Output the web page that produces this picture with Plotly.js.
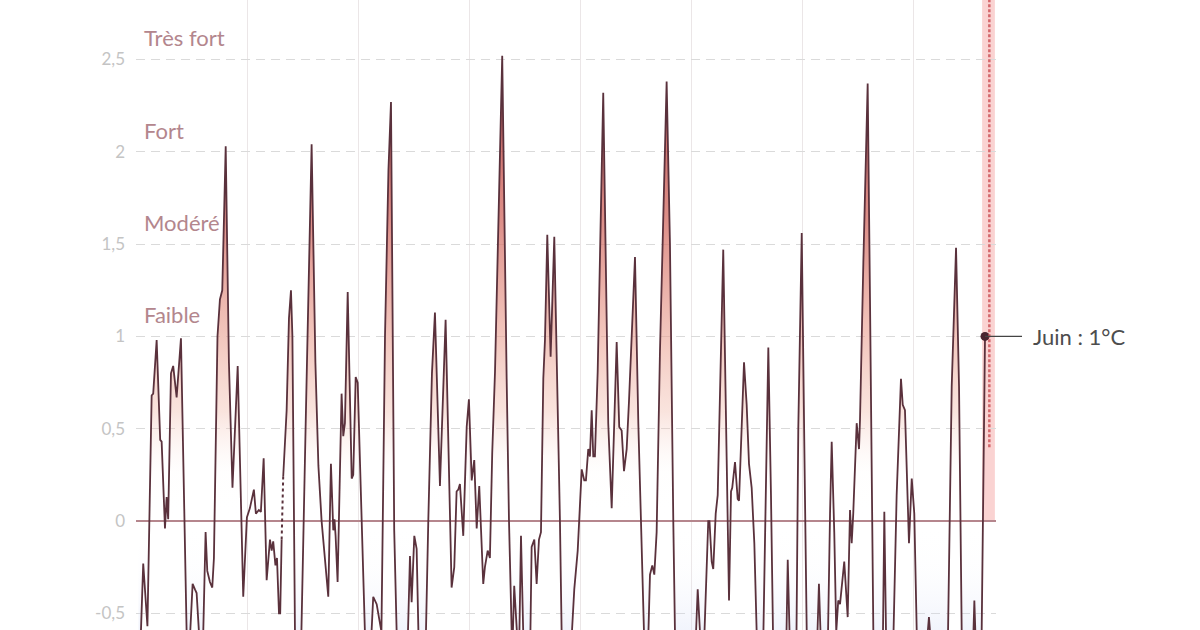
<!DOCTYPE html>
<html>
<head>
<meta charset="utf-8">
<script src="https://cdn.plot.ly/plotly-3.0.1.min.js"></script>
<style>
  html, body { margin: 0; padding: 0; background: #ffffff; }
  #chart { width: 1200px; height: 630px; }
</style>
</head>
<body>
<div id="chart"></div>
<script>
// Anomalie de température (°C) — sommets et creux
const annees = [
  1950.20, 1950.63, 1951.01, 1951.39, 1951.53, 1951.84, 1952.16, 1952.29, 1952.59, 1952.74,
  1952.88, 1953.13, 1953.33, 1953.64, 1954.03, 1954.39, 1954.54, 1954.70, 1954.86, 1955.08,
  1955.29, 1955.44, 1955.65, 1955.83, 1956.04, 1956.25, 1956.40, 1956.64, 1956.85, 1957.00,
  1957.32, 1957.54, 1957.75, 1958.06, 1958.35, 1958.67, 1959.14, 1959.64, 1959.97, 1960.24,
  1960.60, 1960.78, 1961.05, 1961.23, 1961.48, 1961.75, 1962.05, 1962.20, 1962.34, 1962.54,
  1962.68, 1962.86, 1962.97, 1963.10, 1963.17, 1963.24, 1963.55, 1963.76, 1963.94, 1964.07,
  1964.30, 1964.52, 1964.88, 1965.29, 1965.80, 1966.14, 1966.41, 1966.70, 1966.94, 1967.30,
  1967.54, 1967.75, 1967.86, 1967.96, 1968.14, 1968.50, 1968.65, 1968.80, 1969.05, 1969.41,
  1969.55, 1969.77, 1969.95, 1970.15, 1970.36, 1970.60, 1970.96, 1971.23, 1971.35, 1971.66,
  1971.86, 1972.09, 1972.41, 1972.72, 1972.95, 1973.24, 1973.46, 1973.94, 1974.48, 1974.66,
  1974.81, 1975.05, 1975.26, 1975.42, 1975.74, 1976.10, 1976.31, 1976.64, 1976.91, 1977.36,
  1977.87, 1978.11, 1978.41, 1978.65, 1978.86, 1979.01, 1979.16, 1979.46, 1979.77, 1979.97,
  1980.22, 1980.45, 1980.67, 1980.90, 1981.05, 1981.26, 1981.41, 1981.66, 1981.86, 1982.07,
  1982.32, 1982.47, 1982.97, 1983.37, 1983.58, 1983.82, 1983.91, 1984.05, 1984.27, 1984.39,
  1984.52, 1984.66, 1984.86, 1985.20, 1985.51, 1985.62, 1985.86, 1986.07, 1986.28, 1986.46,
  1986.67, 1986.82, 1987.03, 1987.33, 1987.66, 1988.02, 1988.17, 1988.32, 1988.71, 1989.25,
  1989.46, 1989.77, 1989.97, 1990.13, 1990.36, 1990.51, 1990.72, 1990.87, 1991.03, 1991.17,
  1991.32, 1991.57, 1992.07, 1992.52, 1992.83, 1993.06, 1993.28, 1993.51, 1993.73, 1993.94,
  1994.18, 1994.39, 1994.93, 1995.23, 1995.44, 1995.68, 1995.92, 1996.14, 1996.28, 1996.49,
  1996.67, 1996.88, 1997.18, 1997.78, 1998.08, 1998.38, 1998.53, 1999.25, 2000.24, 2000.58,
  2000.78, 2000.96, 2001.19, 2001.53, 2001.64, 2001.84, 2001.98, 2002.20, 2002.38, 2002.88,
  2003.19, 2003.40, 2003.58, 2003.69, 2003.94, 2004.18, 2004.30, 2004.54, 2004.75, 2004.99,
  2005.20, 2005.44, 2005.59, 2005.68, 2005.89, 2006.19, 2006.50, 2006.68, 2006.94, 2007.18,
  2007.36, 2007.99, 2008.58, 2008.69, 2008.85, 2009.16, 2009.48, 2009.64, 2009.95, 2010.24,
  2010.40, 2010.87, 2011.37, 2011.50, 2011.64, 2011.96, 2012.32, 2012.50, 2012.65, 2012.88,
  2013.06, 2013.24, 2013.40, 2013.78, 2014.09, 2014.30, 2014.45, 2014.59, 2014.90, 2015.11,
  2015.20, 2015.50, 2015.89, 2016.10, 2016.40, 2016.82, 2017.27, 2017.39, 2017.54, 2017.86,
  2018.22, 2018.50, 2018.89, 2019.05, 2019.25, 2019.61, 2019.86, 2020.09, 2020.31, 2020.78,
  2021.32, 2021.41, 2021.51, 2022.23, 2023.13, 2023.46, 2023.85, 2024.12, 2024.36, 2024.84,
  2025.42, 2025.50, 2025.59, 2025.87, 2026.16, 2026.46
];
const anomalies = [
  -1.00, -0.23, -0.57,  0.68,  0.69,  0.98,  0.44,  0.43, -0.04,  0.13,
   0.01,  0.80,  0.84,  0.67,  0.99, -0.28, -0.60, -0.80, -0.60, -0.34,
  -0.37, -0.39, -0.60, -0.75, -0.60, -0.06, -0.27, -0.33, -0.36, -0.20,
   1.00,  1.20,  1.25,  2.03,  0.86,  0.18,  0.84, -0.41,  0.02,  0.07,
   0.17,  0.04,  0.06,  0.05,  0.34, -0.32, -0.10, -0.16, -0.11, -0.24,
  -0.20, -0.50, -0.50, -0.10,  null,  0.24,  0.60,  1.10,  1.25,  1.00,
  -0.60, -1.00, -0.60,  0.60,  2.04,  0.86,  0.30,  0.00, -0.17, -0.41,
   0.31, -0.05,  0.01, -0.08, -0.33,  0.69,  0.46,  0.53,  1.24,  0.23,
   0.25,  0.78,  0.75,  0.32, -0.05, -0.60, -0.90, -0.60, -0.41, -0.45,
  -0.51, -0.60,  1.00,  1.90,  2.27, -0.05, -0.60, -1.10, -0.60, -0.19,
  -0.44, -0.08, -0.15, -0.60, -1.00, -0.60,  0.00,  0.80,  1.13,  0.19,
   1.09,  0.40, -0.36, -0.25,  0.16,  0.17,  0.20, -0.08,  0.51,  0.66,
   0.22,  0.33, -0.04,  0.19, -0.04, -0.34, -0.25, -0.16, -0.20,  0.37,
   0.81,  1.18,  2.52,  0.77,  0.00, -0.60, -0.65, -0.35, -0.57, -0.70,
  -0.60, -0.08, -0.60, -1.00, -0.60, -0.14, -0.10, -0.34, -0.10, -0.06,
   0.77,  0.98,  1.55,  0.89,  1.54,  0.53,  0.00, -0.60, -1.20, -0.60,
  -0.37, -0.16,  0.14,  0.28,  0.22,  0.22,  0.39,  0.35,  0.60,  0.35,
   0.35,  0.81,  2.32,  0.53,  0.07,  0.53,  0.97,  0.51,  0.49,  0.27,
   0.39,  0.65,  1.43,  0.53,  0.00, -0.60, -1.00, -0.60, -0.29, -0.24,
  -0.29, -0.06,  0.92,  2.38,  1.50,  0.00, -0.60, -1.50, -0.90, -0.37,
  -0.60, -0.80, -0.60,  0.00,  0.00, -0.22, -0.26,  0.04,  0.14,  1.47,
   0.33, -0.43,  0.16,  0.18,  0.32,  0.12,  0.11,  0.50,  0.86,  0.63,
   0.31,  0.18, -0.04, -0.12, -0.60, -1.00, -0.60,  0.14,  0.94,  0.14,
  -0.60, -1.20, -0.60, -0.21, -0.60, -0.90, -0.60,  0.50,  1.56,  0.14,
  -0.60, -1.20, -0.60, -0.34, -0.60, -0.80, -0.60,  0.04,  0.43, -0.06,
  -0.60, -0.43, -0.45, -0.22, -0.52,  0.06, -0.12,  0.04,  0.53,  0.39,
   0.55,  1.40,  2.37,  1.20, -0.60, -1.30, -0.60,  0.05, -0.60, -0.90,
  -0.60,  0.14,  0.77,  0.63,  0.60, -0.12,  0.23,  0.04, -0.60, -1.00,
  -0.60, -0.52, -0.60, -1.20, -0.60,  0.73,  1.48,  0.73, -0.60, -1.50,
  -0.60, -0.43, -0.60, -0.80, -0.60,  1.00
];
// Données manquantes reliées en pointillé
const lacuneX = [1963.10, 1963.24];
const lacuneY = [-0.10, 0.24];

// Axe vertical
const graduations = [-0.5, 0, 0.5, 1, 1.5, 2, 2.5];
const libellesGraduations = ['-0,5', '0', '0,5', '1', '1,5', '2', '2,5'];

// Seuils d'intensité
const niveaux = ['Faible', 'Modéré', 'Fort', 'Très fort'];
const seuils = [1, 1.5, 2, 2.5];

// Dernier mois et zone de prévision
const dernierMois = 'Juin';
const zonePrevision = [2026.20, 2027.35];
const prevision = { annee: 2026.85, bas: 0.40 };

const yMin = -0.59, yMax = 2.822;
const xMin = 1949.98, xMax = 2027.45;

const n = annees.length;
const lastX = annees[n - 1], lastY = anomalies[n - 1];
const fmt = v => String(v).replace('.', ',');

const lineColor = '#5a313c';

const traces = [
  {
    x: annees, y: anomalies, type: 'scatter', mode: 'lines',
    fill: 'tozeroy',
    fillgradient: {
      type: 'vertical', start: -1.5, stop: 2.6,
      colorscale: [
        [0.00, 'rgba(175,190,235,0.45)'],
        [0.22, 'rgba(205,214,244,0.28)'],
        [0.30, 'rgba(232,236,250,0.08)'],
        [0.366, 'rgba(255,255,255,0)'],
        [0.43, 'rgba(250,228,222,0.03)'],
        [0.51, 'rgba(242,190,175,0.42)'],
        [0.61, 'rgba(234,160,145,0.60)'],
        [0.76, 'rgba(212,112,104,0.78)'],
        [1.00, 'rgba(180,62,62,0.92)']
      ]
    },
    line: { color: lineColor, width: 1.8 },
    connectgaps: false, hoverinfo: 'skip', showlegend: false
  },
  {
    x: lacuneX, y: lacuneY, type: 'scatter', mode: 'lines',
    line: { color: lineColor, width: 2, dash: '3px,3px' },
    hoverinfo: 'skip', showlegend: false
  },
  {
    x: [lastX], y: [lastY], type: 'scatter', mode: 'markers',
    marker: { color: '#4a2530', size: 9 },
    hoverinfo: 'skip', showlegend: false
  }
];

const annotations = niveaux.map((t, i) => ({
  text: t, xref: 'paper', x: 0, xanchor: 'left', xshift: 6,
  yref: 'y', y: seuils[i], yanchor: 'bottom', yshift: 6,
  showarrow: false,
  font: { family: 'Lato, sans-serif', size: 22, color: '#b3868d' }
}));
annotations.push({
  text: `${dernierMois} : ${fmt(lastY)}°C`,
  x: lastX, y: lastY, xref: 'x', yref: 'y',
  showarrow: true, arrowhead: 0, arrowwidth: 1.2, arrowcolor: '#444',
  ax: 37, ay: 0, xanchor: 'left', borderpad: 10, standoff: 0,
  font: { family: 'Lato, sans-serif', size: 22, color: '#4d4d4d' }
});

const layout = {
  width: 1200, height: 630,
  margin: { l: 136, r: 204, t: 0, b: 0, pad: 0 },
  paper_bgcolor: '#ffffff', plot_bgcolor: '#ffffff',
  showlegend: false,
  xaxis: {
    range: [xMin, xMax], tick0: 1950, dtick: 10,
    showgrid: true, gridcolor: '#ebe6e7', gridwidth: 1,
    showticklabels: false, ticks: '', zeroline: false, showline: false
  },
  yaxis: {
    range: [yMin, yMax],
    tickmode: 'array', tickvals: graduations, ticktext: libellesGraduations,
    showgrid: true, gridcolor: '#dadada', gridwidth: 1, griddash: '9px,6px',
    zeroline: true, zerolinecolor: '#b5868d', zerolinewidth: 1.5,
    ticks: '', ticklabelstandoff: 10, showline: false,
    tickfont: { family: 'Lato, sans-serif', size: 17, color: '#c4c4c4' }
  },
  shapes: [
    {
      type: 'rect', xref: 'x', yref: 'y', layer: 'below',
      x0: zonePrevision[0], x1: zonePrevision[1], y0: 0, y1: yMax,
      fillcolor: 'rgba(245,168,165,0.5)', line: { width: 0 }
    },
    {
      type: 'line', xref: 'x', yref: 'y', layer: 'above',
      x0: prevision.annee, x1: prevision.annee, y0: prevision.bas, y1: yMax,
      line: { color: 'rgba(205,85,90,0.85)', width: 2.5, dash: '3px,2px' }
    }
  ],
  annotations: annotations
};

Plotly.newPlot('chart', traces, layout, { staticPlot: true, displayModeBar: false });
</script>
</body>
</html>
